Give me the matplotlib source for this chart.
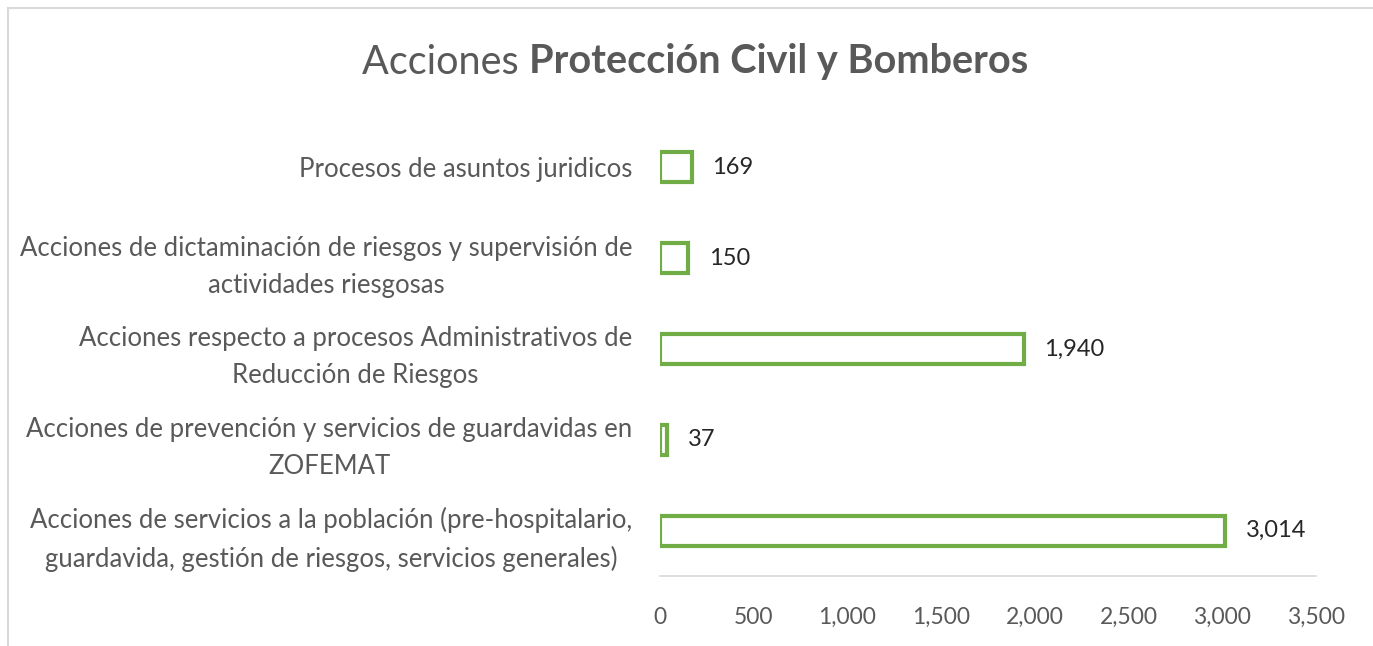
import matplotlib
matplotlib.use("Agg")
import matplotlib.pyplot as plt
from matplotlib.lines import Line2D

plt.rcParams['font.family'] = ['Lato', 'DejaVu Sans']

# Data (top to bottom as shown)
categories = [
    "Procesos de asuntos juridicos",
    "Acciones de dictaminación de riesgos y supervisión de\nactividades riesgosas",
    "Acciones respecto a procesos Administrativos de\nReducción de Riesgos",
    "Acciones de prevención y servicios de guardavidas en\nZOFEMAT",
    "Acciones de servicios a la población (pre-hospitalario,\nguardavida, gestión de riesgos, servicios generales)",
]
values = [169, 150, 1940, 37, 3014]
xticks = [0, 500, 1000, 1500, 2000, 2500, 3000, 3500]

GREEN = "#70AD47"
GREY = "#595959"
W, H = 1373, 646

fig = plt.figure(figsize=(W / 100, H / 100), dpi=100)
ax = fig.add_axes([660 / W, 1 - 576 / H, (1316 - 660) / W, (576 - 122) / H])

y = list(range(len(categories)))[::-1]
ax.barh(y, values, height=0.33, facecolor="white", edgecolor=GREEN, linewidth=3)

for yi, v in zip(y, values):
    ax.text(v + 110, yi, f"{v:,}", va="center", ha="left", fontsize=17, color="#262626")

ax.set_xlim(0, 3500)
ax.set_ylim(-0.5, len(categories) - 0.5)
ax.set_xticks(xticks)
ax.set_xticklabels([f"{t:,}" for t in xticks], fontsize=16.5, color=GREY)
ax.set_yticks(y)
ax.set_yticklabels(categories, fontsize=18.5, color=GREY, multialignment="center",
                   linespacing=1.6)
ax.tick_params(axis="both", length=0)
ax.tick_params(axis="x", pad=22)
ax.tick_params(axis="y", pad=20)
for s in ["top", "right", "left"]:
    ax.spines[s].set_visible(False)
ax.spines["bottom"].set_color("#D9D9D9")
ax.spines["bottom"].set_linewidth(1.2)

# title with mixed weight, centered
fig.canvas.draw()
r = fig.canvas.get_renderer()
t1 = fig.text(0, 1 - 62 / H, "Acciones ", fontsize=28.5, color=GREY, va="center", ha="left")
t2 = fig.text(0, 1 - 62 / H, "Protección Civil y Bomberos", fontsize=28.5, color=GREY,
              fontweight="bold", va="center", ha="left")
w1 = t1.get_window_extent(r).width
w2 = t2.get_window_extent(r).width
x0 = 695 - (w1 + w2) / 2
t1.set_x(x0 / W)
t2.set_x((x0 + w1) / W)

# chart border (top and left edges)
fig.add_artist(Line2D([8 / W, 1], [1 - 8 / H, 1 - 8 / H], color="#D9D9D9", lw=1.5))
fig.add_artist(Line2D([8 / W, 8 / W], [0, 1 - 8 / H], color="#D9D9D9", lw=1.5))

fig.savefig("out.png", dpi=100)
